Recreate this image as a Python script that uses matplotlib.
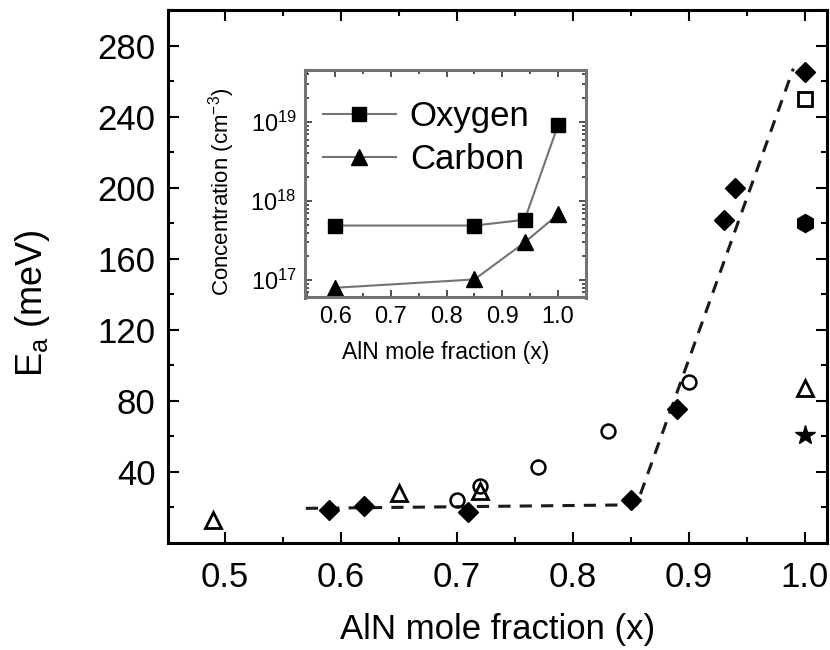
import math
import matplotlib
matplotlib.use("Agg")
import matplotlib.pyplot as plt
from matplotlib.ticker import FixedLocator, FuncFormatter, LogLocator, NullFormatter

plt.rcParams['font.family'] = ['Liberation Sans', 'DejaVu Sans']
plt.rcParams['mathtext.fontset'] = 'custom'
plt.rcParams['mathtext.rm'] = 'Liberation Sans'
plt.rcParams['mathtext.it'] = 'Liberation Sans:italic'

# Activation energy of Mg acceptors vs AlN mole fraction
this_work_x = [0.59, 0.62, 0.71, 0.85, 0.89, 0.93, 0.94, 1.00]
this_work_ea = [18.8, 20.7, 17.5, 24.0, 75.7, 182.0, 200.0, 265.0]

open_tri_x = [0.49, 0.65, 0.72, 1.00]
open_tri_ea = [13.2, 28.2, 29.0, 87.0]

open_circ_x = [0.70, 0.72, 0.77, 0.83, 0.90]
open_circ_ea = [24.0, 32.0, 42.8, 63.1, 90.7]

open_sq_x = [1.00]
open_sq_ea = [250.0]

hex_x = [1.00]
hex_ea = [180.0]

star_x = [1.00]
star_ea = [60.7]

# guide to the eye
guide_x = [0.57, 0.855, 0.99]
guide_ea = [19.5, 21.5, 267.0]

# Impurity concentrations (inset)
sims_x = [0.60, 0.85, 0.94, 1.00]
oxygen = [4.9e17, 4.9e17, 5.8e17, 9.2e18]
carbon = [8.0e16, 1.02e17, 3.0e17, 6.8e17]

W, H = 830, 650
fig = plt.figure(figsize=(W / 100, H / 100), dpi=100)

# ---- main axes
L, R, T, B = 168, 827, 10, 543
ax = fig.add_axes([L / W, 1 - B / H, (R - L) / W, (B - T) / H])
ax.set_xlim(0.4513, 1.019)
ax.set_ylim(0, 300)

ax.plot(guide_x, guide_ea, ls=(0, (4, 3)), lw=2.2, color='0.1', zorder=2)
ax.plot(this_work_x, this_work_ea, ls='none', marker='D', ms=10.5, color='black', zorder=4)
ax.plot(open_tri_x, open_tri_ea, ls='none', marker='^', ms=11, mfc='white', mec='black', mew=2, zorder=3)
ax.plot(open_circ_x, open_circ_ea, ls='none', marker='o', ms=10, mfc='none', mec='black', mew=1.8, zorder=3)
ax.plot(open_sq_x, open_sq_ea, ls='none', marker='s', ms=10, mfc='white', mec='black', mew=2, zorder=3)
ax.plot(hex_x, hex_ea, ls='none', marker='h', ms=13, color='black', zorder=3)
ax.plot(star_x, star_ea, ls='none', marker='*', ms=15, color='black', zorder=3)

ax.xaxis.set_major_locator(FixedLocator([0.5, 0.6, 0.7, 0.8, 0.9, 1.0]))
ax.xaxis.set_minor_locator(FixedLocator([0.55, 0.65, 0.75, 0.85, 0.95]))
ax.xaxis.set_major_formatter(FuncFormatter(lambda v, p: f"{v:.1f}"))
ax.yaxis.set_major_locator(FixedLocator([40, 80, 120, 160, 200, 240, 280]))
ax.yaxis.set_minor_locator(FixedLocator([20, 60, 100, 140, 180, 220, 260, 300]))

ax.tick_params(which='both', direction='in', top=True, right=True, width=1.5, colors='black')
ax.tick_params(which='major', length=8)
ax.tick_params(which='minor', length=4)
ax.tick_params(axis='x', which='major', labelsize=25, pad=13)
ax.tick_params(axis='y', which='major', labelsize=25, pad=9)
for s in ax.spines.values():
    s.set_linewidth(2.2)
    s.set_color('black')

ax.set_xlabel('AlN mole fraction (x)', fontsize=25, va='center')
ax.xaxis.set_label_coords(0.5, (B - 630) / (B - T))
ax.set_ylabel(r'E$_\mathregular{a}$ (meV)', fontsize=26, va='center')
ax.yaxis.set_label_coords((32 - L) / (R - L), 0.45)

# ---- inset
iL, iR, iT, iB = 305, 586, 70, 297.5
ins = fig.add_axes([iL / W, 1 - iB / H, (iR - iL) / W, (iB - iT) / H])
ins.set_yscale('log')
ins.set_xlim(0.546, 1.05)
ins.set_ylim(10 ** 16.78, 10 ** 19.658)

ins.plot(sims_x, oxygen, color='0.45', lw=1.5, marker='s', ms=10, mfc='black', mec='black', label='Oxygen')
ins.plot(sims_x, carbon, color='0.45', lw=1.5, marker='^', ms=12, mfc='black', mec='black', label='Carbon')

ins.xaxis.set_major_locator(FixedLocator([0.6, 0.7, 0.8, 0.9, 1.0]))
ins.xaxis.set_minor_locator(FixedLocator([0.55, 0.65, 0.75, 0.85, 0.95, 1.05]))
ins.xaxis.set_major_formatter(FuncFormatter(lambda v, p: f"{v:.1f}"))
ins.yaxis.set_major_locator(FixedLocator([1e17, 1e18, 1e19]))
ins.yaxis.set_minor_locator(LogLocator(base=10, subs=range(2, 10)))
ins.yaxis.set_minor_formatter(NullFormatter())
ins.yaxis.set_major_formatter(FuncFormatter(lambda v, p: r'10$^{%d}$' % round(math.log10(v))))

ins.tick_params(which='both', direction='in', top=True, right=True, width=1.2, colors='0.2')
ins.tick_params(which='major', length=5, labelsize=17, pad=6, labelcolor='black')
ins.tick_params(which='minor', length=3)
for s in ins.spines.values():
    s.set_linewidth(2.2)
    s.set_color('0.45')

ins.set_xlabel('AlN mole fraction (x)', fontsize=16.5, va='center')
ins.xaxis.set_label_coords(0.5, (iB - 353) / (iB - iT))
ins.set_ylabel(r'Concentration (cm$^{-3}$)', fontsize=16, va='center')
ins.yaxis.set_label_coords((222 - iL) / (iR - iL), (iB - 192) / (iB - iT))

ins.legend(loc='upper left', bbox_to_anchor=(323 / W, 1 - 100 / H), bbox_transform=fig.transFigure,
           frameon=False, fontsize=25, handlelength=2.1, handletextpad=0.4, labelspacing=0.3,
           borderpad=0, borderaxespad=0)

fig.savefig('out.png', dpi=100)
